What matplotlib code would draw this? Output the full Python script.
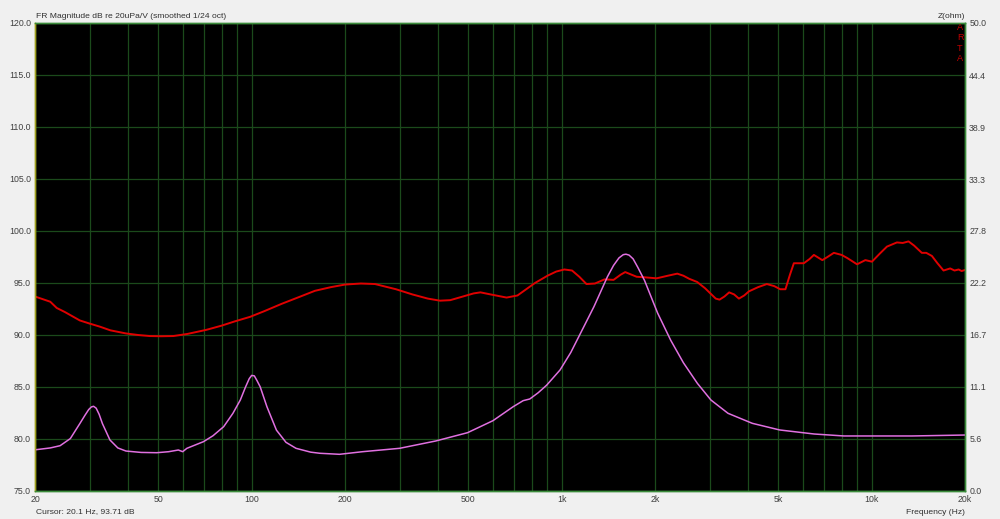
import numpy as np
import matplotlib
matplotlib.use("Agg")
import matplotlib.pyplot as plt

# frequency response (red, left axis, dB)
fr_freq = [20, 22.4, 23.5, 25, 27.9, 30, 32.4, 35, 39.3, 43, 46.9, 51, 55.9, 62, 71.5, 80, 88,
           98.9, 110, 125, 143.6, 160, 180, 200, 225, 250, 292, 330, 370, 405, 437, 480, 520,
           547, 590, 664, 720, 820, 900, 960, 1020, 1080, 1140, 1202, 1280, 1375, 1470, 1550,
           1603, 1680, 1745, 1850, 2025, 2200, 2360, 2470, 2580, 2735, 2900, 3140, 3230, 3350,
           3470, 3600, 3730, 3880, 4020, 4300, 4590, 4850, 5070, 5270, 5450, 5610, 6040, 6300,
           6510, 6930, 7200, 7550, 8000, 8340, 8970, 9540, 10020, 10600, 11200, 12060, 12600,
           13150, 13700, 14510, 15000, 15640, 16300, 17050, 17920, 18500, 19080, 19500, 20000]
fr_db = [93.7, 93.2, 92.6, 92.2, 91.4, 91.1, 90.8, 90.45, 90.15, 90.0, 89.9, 89.88, 89.9, 90.1,
         90.5, 90.9, 91.3, 91.75, 92.3, 93.0, 93.7, 94.25, 94.6, 94.85, 94.95, 94.9, 94.4, 93.9,
         93.5, 93.3, 93.35, 93.7, 94.0, 94.1, 93.9, 93.6, 93.8, 95.0, 95.7, 96.1, 96.3, 96.2,
         95.6, 94.9, 94.95, 95.35, 95.3, 95.8, 96.05, 95.8, 95.6, 95.55, 95.45, 95.7, 95.9,
         95.7, 95.4, 95.1, 94.5, 93.5, 93.4, 93.7, 94.1, 93.9, 93.5, 93.8, 94.2, 94.6, 94.9,
         94.7, 94.4, 94.4, 95.8, 96.9, 96.9, 97.3, 97.7, 97.2, 97.5, 97.9, 97.7, 97.4, 96.8,
         97.2, 97.05, 97.8, 98.5, 98.9, 98.85, 99.0, 98.6, 97.9, 97.9, 97.6, 96.9, 96.2, 96.4,
         96.2, 96.3, 96.15, 96.25]

# impedance (pink, right axis, ohm)
z_freq = [20, 22.4, 24.1, 26, 27.9, 29.0, 29.8, 30.4, 30.9, 31.5, 32.2, 33.0, 34.9, 37, 39.3,
          44, 49.4, 54, 58, 59.9, 61.8, 69.9, 75, 81.2, 87, 91.9, 95.5, 98.2, 100, 102, 104,
          106.5, 112, 120.2, 129, 139, 155, 166, 192, 228, 300, 392, 497, 600, 697, 751, 789,
          840, 894, 988, 1070, 1150, 1271, 1405, 1470, 1530, 1580, 1612, 1650, 1700, 1760,
          1850, 2040, 2248, 2470, 2740, 3030, 3440, 4120, 5050, 6520, 8130, 13500, 20000]
z_ohm = [4.4, 4.6, 4.84, 5.6, 7.2, 8.1, 8.7, 8.98, 9.05, 8.85, 8.2, 7.2, 5.45, 4.6, 4.27,
         4.12, 4.09, 4.2, 4.38, 4.2, 4.56, 5.27, 5.9, 6.87, 8.3, 9.72, 11.1, 12.0, 12.35, 12.3,
         11.8, 11.14, 9.0, 6.5, 5.2, 4.56, 4.15, 4.03, 3.92, 4.2, 4.56, 5.34, 6.23, 7.51, 9.0,
         9.65, 9.83, 10.5, 11.3, 12.93, 14.8, 16.85, 19.7, 22.9, 24.1, 24.9, 25.25, 25.3, 25.2,
         24.8, 23.9, 22.5, 19.0, 16.1, 13.7, 11.5, 9.72, 8.3, 7.23, 6.52, 6.09, 5.88, 5.88, 5.98]

x_ticks = [20, 50, 100, 200, 500, 1000, 2000, 5000, 10000, 20000]
x_labels = ["20", "50", "100", "200", "500", "1k", "2k", "5k", "10k", "20k"]
db_ticks = np.arange(75, 121, 5)
z_ticks = np.linspace(0, 50, 10)

plt.rcParams['font.family'] = ['Liberation Sans', 'DejaVu Sans']
txt = "#404040"
grid_c = "#1b4a1b"
frame_c = "#3c8c3c"

fig = plt.figure(figsize=(10, 5.19), dpi=100, facecolor="#f0f0f0")
ax = fig.add_axes([0.035, 28 / 519, 0.93, 468 / 519])
ax.set_facecolor("black")
ax.set_xscale("log")
ax.set_xlim(20, 20000)
ax.set_ylim(75, 120)

minor = [m * 10 ** e for e in range(1, 5) for m in range(1, 10) if 20 <= m * 10 ** e <= 20000]
ax.set_xticks(minor, minor=True)
ax.set_xticks(x_ticks)
ax.set_xticklabels(x_labels)
ax.xaxis.set_minor_formatter(matplotlib.ticker.NullFormatter())
ax.set_yticks(db_ticks)
ax.set_yticklabels([f"{v:.1f}" for v in db_ticks])
ax.grid(which="both", color=grid_c, linewidth=0.9)
ax.tick_params(which="both", length=0, labelsize=6.3, colors=txt, pad=3)

ax.plot(fr_freq, fr_db, color="#e00000", linewidth=1.4)

ax2 = ax.twinx()
ax2.set_ylim(0, 50)
ax2.set_yticks(z_ticks)
ax2.set_yticklabels([f"{v:.1f}" for v in z_ticks])
ax2.tick_params(length=0, labelsize=6.3, colors=txt, pad=3)
ax2.plot(z_freq, z_ohm, color="#e070e0", linewidth=1.1)

for a in (ax, ax2):
    for s in a.spines.values():
        s.set_color(frame_c)
        s.set_linewidth(1)
    a.spines["left"].set_color("#a0a020")

fig.text(0.036, 1 - 16 / 519, "FR Magnitude dB re 20uPa/V (smoothed 1/24 oct)",
         fontsize=6.1, color="#303030", va="center", ha="left")
fig.text(0.965, 1 - 16 / 519, "Z(ohm)", fontsize=6.1, color="#303030", va="center", ha="right")
fig.text(0.036, 1 - 512 / 519, "Cursor: 20.1 Hz, 93.71 dB", fontsize=6.1, color="#303030",
         va="center", ha="left")
fig.text(0.965, 1 - 512 / 519, "Frequency (Hz)", fontsize=6.1, color="#303030",
         va="center", ha="right")
fig.text(0.960, 1 - 43 / 519, "A\nR\nT\nA", fontsize=6.6, color="#c00000",
         va="center", ha="center", linespacing=1.15)

fig.savefig("out.png", dpi=100, facecolor=fig.get_facecolor())
